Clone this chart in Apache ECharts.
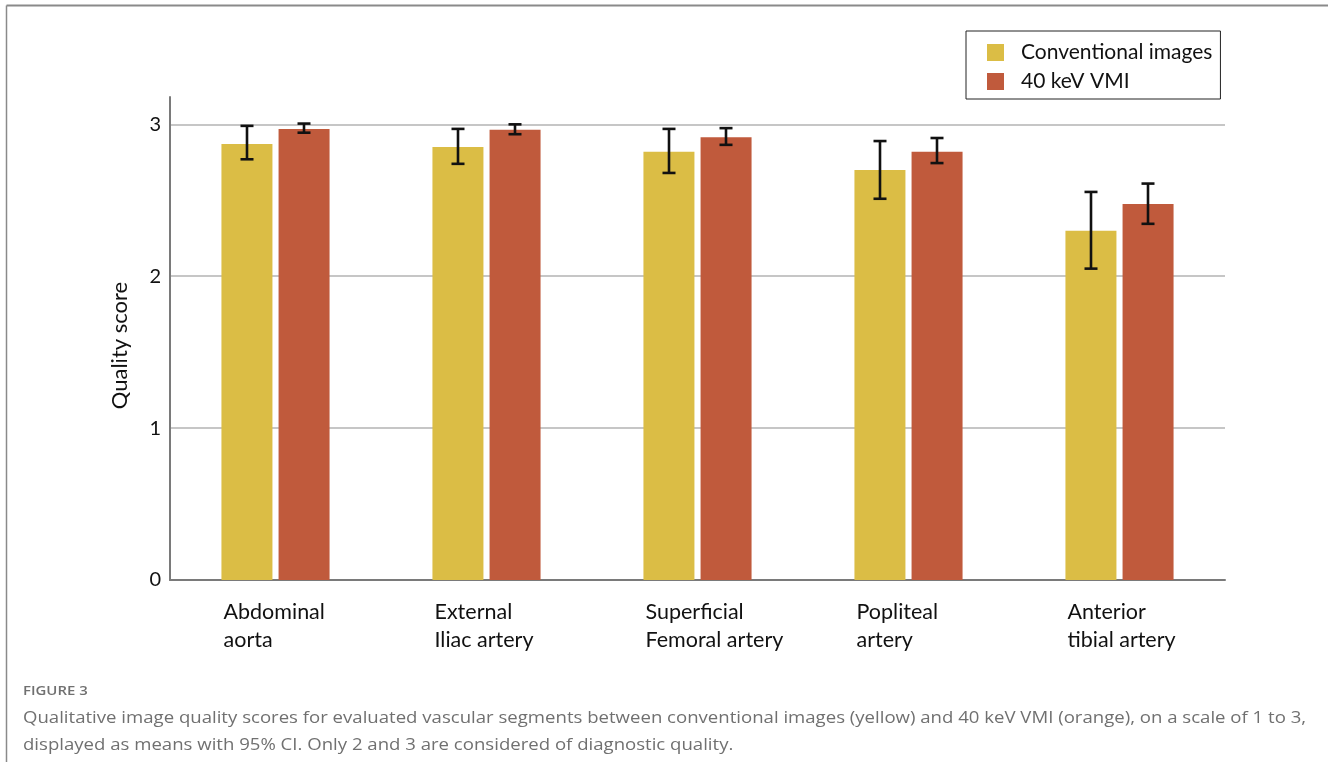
<!DOCTYPE html>
<html>
<head>
<meta charset="utf-8">
<script src="https://cdn.jsdelivr.net/npm/echarts@6/dist/echarts.min.js"></script>
<style>
html,body{margin:0;padding:0;background:#fff;}
#chart{width:1328px;height:762px;}
</style>
</head>
<body>
<div id="chart"></div>
<script>
const categories = ['Abdominal\naorta', 'External\nIliac artery', 'Superficial\nFemoral artery', 'Popliteal\nartery', 'Anterior\ntibial artery'];
const seriesNames = ['Conventional images', '40 keV VMI'];
const conventionalMean = [2.87, 2.85, 2.82, 2.70, 2.30];
const conventionalLow  = [2.77, 2.74, 2.68, 2.51, 2.05];
const conventionalHigh = [2.99, 2.97, 2.97, 2.89, 2.555];
const vmiMean = [2.97, 2.965, 2.915, 2.82, 2.475];
const vmiLow  = [2.945, 2.935, 2.865, 2.745, 2.345];
const vmiHigh = [3.005, 3.00, 2.975, 2.91, 2.61];
const yTicks = [0, 1, 2, 3];
const captionLabel = 'FIGURE 3';
const captionText = 'Qualitative image quality scores for evaluated vascular segments between conventional images (yellow) and 40 keV VMI (orange), on a scale of 1 to 3,\ndisplayed as means with 95% CI. Only 2 and 3 are considered of diagnostic quality.';

const chart = echarts.init(document.getElementById('chart'), null, {renderer: 'canvas'});
const BAR_W = 51;
const OFFSET = 28.5;
const CAP = 13;

function errRender(sign) {
  return function (params, api) {
    const c = api.value(0);
    const top = api.coord([c, api.value(2)]);
    const bot = api.coord([c, api.value(1)]);
    const x = top[0] + sign * OFFSET;
    const st = {stroke: '#111', lineWidth: 2.6};
    return {
      type: 'group',
      children: [
        {type: 'line', shape: {x1: x, y1: top[1], x2: x, y2: bot[1]}, style: st},
        {type: 'line', shape: {x1: x - CAP / 2, y1: top[1], x2: x + CAP / 2, y2: top[1]}, style: st},
        {type: 'line', shape: {x1: x - CAP / 2, y1: bot[1], x2: x + CAP / 2, y2: bot[1]}, style: st}
      ]
    };
  };
}

const option = {
  backgroundColor: '#fff',
  animation: false,
  textStyle: {fontFamily: 'Lato'},
  legend: {
    data: seriesNames,
    orient: 'vertical',
    left: 966,
    top: 31,
    padding: [11, 8, 7, 21],
    borderColor: '#222',
    borderWidth: 1,
    itemWidth: 17,
    itemHeight: 17,
    itemGap: 8,
    itemStyle: {borderWidth: 0},
    textStyle: {fontFamily: 'Lato', fontSize: 21, color: '#111', padding: [0, 0, 0, 12]},
    icon: 'rect'
  },
  grid: {left: 170, right: 103, top: 97, bottom: 182},
  xAxis: {
    type: 'category',
    data: categories,
    axisLine: {lineStyle: {color: '#7a7a7a', width: 2}},
    axisTick: {show: false},
    axisLabel: {
      interval: 0,
      margin: 18,
      formatter: function (v) {
        return v.split('\n').map(s => '{a|' + s + '}').join('\n');
      },
      rich: {a: {width: 104, align: 'left', fontFamily: 'Lato', fontSize: 21.5, lineHeight: 28, color: '#111'}}
    }
  },
  yAxis: {
    type: 'value',
    min: 0,
    max: 3.18,
    interval: 1,
    name: 'Quality score',
    nameLocation: 'middle',
    nameGap: 39,
    nameTextStyle: {fontFamily: 'Lato', fontSize: 22, color: '#111', padding: [0, 14, 0, 0]},
    axisLine: {show: true, lineStyle: {color: '#7a7a7a', width: 2}},
    axisTick: {show: false},
    axisLabel: {
      margin: 9, fontFamily: 'Lato', fontSize: 20, color: '#111',
      showMaxLabel: false,
      formatter: function (v) { return yTicks.indexOf(v) >= 0 ? String(v) : ''; }
    },
    splitLine: {showMaxLine: false, lineStyle: {color: '#c6c6c6', width: 2}}
  },
  series: [
    {
      name: seriesNames[0], type: 'bar', data: conventionalMean,
      barWidth: BAR_W, barGap: '12%',
      itemStyle: {color: '#DBBD45'}
    },
    {
      name: seriesNames[1], type: 'bar', data: vmiMean,
      barWidth: BAR_W, barGap: '12%',
      itemStyle: {color: '#C05A3C'}
    },
    {
      type: 'custom', name: 'errConv',
      renderItem: errRender(-1),
      data: conventionalMean.map((m, i) => [i, conventionalLow[i], conventionalHigh[i]]),
      encode: {x: 0, y: [1, 2]}, z: 10
    },
    {
      type: 'custom', name: 'errVmi',
      renderItem: errRender(1),
      data: vmiMean.map((m, i) => [i, vmiLow[i], vmiHigh[i]]),
      encode: {x: 0, y: [1, 2]}, z: 10
    }
  ],
  graphic: [
    {type: 'line', shape: {x1: 6.5, y1: 5.5, x2: 1328, y2: 5.5}, style: {stroke: '#8a8a8a', lineWidth: 2}},
    {type: 'line', shape: {x1: 6.5, y1: 5.5, x2: 6.5, y2: 762}, style: {stroke: '#8a8a8a', lineWidth: 1.5}},
    {type: 'text', x: 23, y: 685, scaleX: 1.15,
      style: {text: captionLabel, fontFamily: 'Open Sans', fontSize: 13, fontWeight: 600, fill: '#707070'}},
    {type: 'text', x: 23, y: 705, scaleX: 1.126,
      style: {text: captionText, fontFamily: 'Open Sans', fontSize: 16.5, fill: '#707070', lineHeight: 27}}
  ]
};
chart.setOption(option);
</script>
</body>
</html>
